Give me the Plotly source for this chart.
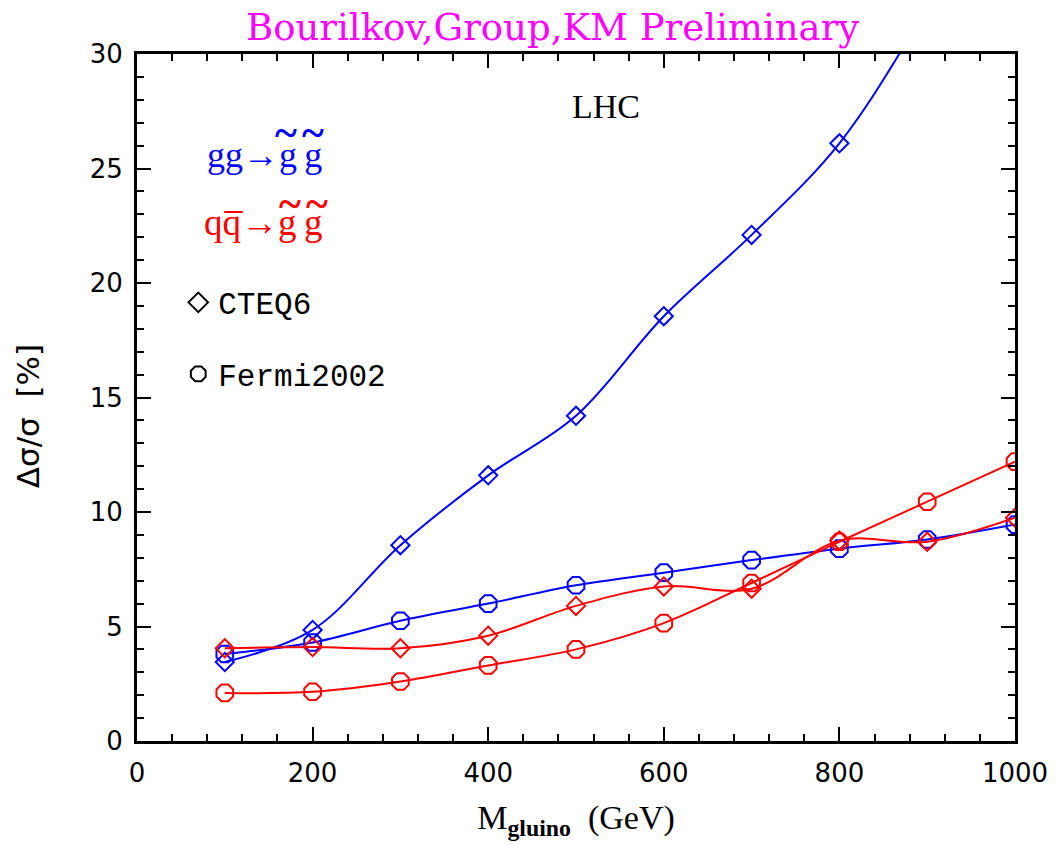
import plotly.graph_objects as go

mass = [100, 200, 300, 400, 500, 600, 700, 800, 900, 1000]
gg_cteq6 = [3.45, 4.85, 8.55, 11.6, 14.2, 18.55, 22.1, 26.1, 32.0, 38.5]
gg_fermi = [3.8, 4.3, 5.25, 6.0, 6.8, 7.35, 7.9, 8.4, 8.8, 9.45]
qq_cteq6 = [4.05, 4.1, 4.05, 4.6, 5.9, 6.75, 6.65, 8.75, 8.7, 9.75]
qq_fermi = [2.1, 2.15, 2.6, 3.3, 4.0, 5.15, 6.9, 8.7, 10.45, 12.2]

BLUE = "#0000ff"
RED = "#ff0000"
serif = "Liberation Serif, serif"

fig = go.Figure()

def add(y, color, symbol, size):
    fig.add_trace(go.Scatter(
        x=mass, y=y, mode="lines+markers",
        line=dict(color=color, width=2, shape="spline"),
        marker=dict(symbol=symbol, size=size, color=color, line=dict(color=color, width=2)),
        showlegend=False, cliponaxis=True))

add(gg_cteq6, BLUE, "diamond-open", 14)
add(gg_fermi, BLUE, "octagon-open", 18)
add(qq_cteq6, RED, "diamond-open", 14)
add(qq_fermi, RED, "octagon-open", 18)

# legend entries
fig.add_trace(go.Scatter(x=[None], y=[None], mode="markers", name="CTEQ6",
                         marker=dict(symbol="diamond-open", size=15, color="black", line=dict(color="black", width=2)),
                         legend="legend"))
fig.add_trace(go.Scatter(x=[None], y=[None], mode="markers", name="Fermi2002",
                         marker=dict(symbol="octagon-open", size=18, color="black", line=dict(color="black", width=2)),
                         legend="legend2"))

legfont = dict(family="Liberation Mono", size=31, color="black")
fig.update_layout(
    legend=dict(x=0.047, y=0.638, xanchor="left", yanchor="middle", font=legfont,
                bgcolor="rgba(0,0,0,0)", itemwidth=30),
    legend2=dict(x=0.047, y=0.534, xanchor="left", yanchor="middle", font=legfont,
                 bgcolor="rgba(0,0,0,0)", itemwidth=30),
)

# process labels
fig.add_annotation(xref="paper", yref="paper", x=0.0773, y=0.853, xanchor="left", yanchor="middle",
                   text="gg\u2192g\u2009g", showarrow=False, font=dict(family=serif, size=36, color=BLUE))
fig.add_annotation(xref="paper", yref="paper", x=0.074, y=0.755, xanchor="left", yanchor="middle",
                   text="qq\u0305\u2192g\u2009g", showarrow=False, font=dict(family=serif, size=37, color=RED))
for xp, yp, c in [(0.170, 0.885, BLUE), (0.201, 0.885, BLUE), (0.174, 0.782, RED), (0.205, 0.782, RED)]:
    fig.add_annotation(xref="paper", yref="paper", x=xp, y=yp, xanchor="center", yanchor="middle",
                       text="<b>~</b>", showarrow=False, font=dict(family=serif, size=42, color=c))

fig.add_annotation(xref="paper", yref="paper", x=0.534, y=0.923, xanchor="center", yanchor="middle",
                   text="LHC", showarrow=False, font=dict(family=serif, size=34, color="black"))

# title
fig.add_annotation(xref="paper", yref="paper", x=0.473, y=1.038, xanchor="center", yanchor="middle",
                   text="Bourilkov,Group,KM Preliminary", showarrow=False,
                   font=dict(family="DejaVu Serif", size=37, color="#ff00ff"))

# y axis title
fig.add_annotation(xref="paper", yref="paper", x=-0.124, y=0.473, xanchor="center", yanchor="middle",
                   text="\u0394\u03c3/\u03c3  [%]", textangle=-90, showarrow=False,
                   font=dict(family="DejaVu Sans", size=31, color="black"))

fig.update_layout(
    width=1060, height=846,
    margin=dict(l=137, r=43, t=54, b=105),
    paper_bgcolor="white", plot_bgcolor="white",
)

tickfont = dict(family="DejaVu Sans", size=26, color="black")
fig.update_xaxes(range=[0, 1000], dtick=200, tick0=0, showgrid=False, zeroline=False,
                 showline=True, linewidth=3, linecolor="black", mirror="ticks",
                 ticks="inside", ticklen=14, tickwidth=2, tickcolor="black",
                 minor=dict(dtick=40, ticks="inside", ticklen=7, tickwidth=2, tickcolor="black"),
                 tickfont=tickfont, ticklabelstandoff=7,
                 title=dict(text="M<sub><b>gluino</b></sub>  (GeV)", font=dict(family=serif, size=34, color="black"),
                            standoff=18))
fig.update_yaxes(range=[0, 30], dtick=5, tick0=0, showgrid=False, zeroline=False,
                 showline=True, linewidth=3, linecolor="black", mirror="ticks",
                 ticks="inside", ticklen=14, tickwidth=2, tickcolor="black",
                 minor=dict(dtick=1, ticks="inside", ticklen=7, tickwidth=2, tickcolor="black"),
                 tickfont=tickfont, ticklabelstandoff=6)

fig.write_html("out.html")
